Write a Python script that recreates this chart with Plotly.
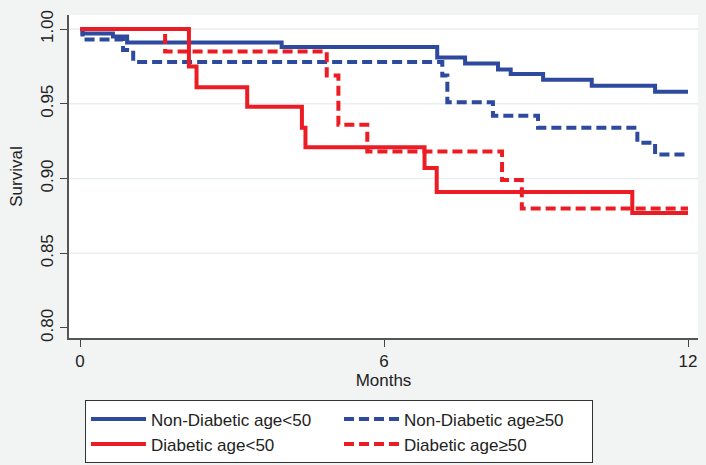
import plotly.graph_objects as go

# ---- data ----
nd_lt50_t = [0, 0.05, 0.65, 0.93, 3.98, 7.05, 7.6, 8.25, 8.5, 9.14, 10.1, 11.35, 12]
nd_lt50_s = [1.0, 0.997, 0.995, 0.991, 0.988, 0.981, 0.977, 0.973, 0.970, 0.966, 0.962, 0.958, 0.958]

nd_ge50_t = [0, 0.05, 0.85, 1.05, 7.15, 7.25, 8.15, 9.04, 11.0, 11.35, 12]
nd_ge50_s = [1.0, 0.993, 0.986, 0.978, 0.969, 0.951, 0.942, 0.934, 0.924, 0.916, 0.916]

d_lt50_t = [0, 2.15, 2.3, 3.3, 4.38, 4.45, 6.8, 7.04, 10.9, 12]
d_lt50_s = [1.0, 0.975, 0.961, 0.948, 0.934, 0.921, 0.907, 0.891, 0.877, 0.877]

d_ge50_t = [0, 1.68, 4.87, 5.1, 5.67, 8.33, 8.72, 12]
d_ge50_s = [1.0, 0.985, 0.969, 0.936, 0.918, 0.899, 0.880, 0.880]

series_names = ["Non-Diabetic age<50", "Non-Diabetic age\u226550",
                "Diabetic age<50", "Diabetic age\u226550"]

x_ticks = [0, 6, 12]
y_ticks = [0.80, 0.85, 0.90, 0.95, 1.00]
y_tick_labels = ["0.80", "0.85", "0.90", "0.95", "1.00"]
y_grid = [0.85, 0.90, 0.95, 1.00]

# ---- styling ----
BLUE = "#2E4A9E"
RED = "#EC1C24"
FONT = "Liberation Sans, Arial, sans-serif"
FS = 17
TXT = "#222222"

fig = go.Figure()
specs = [
    (nd_lt50_t, nd_lt50_s, series_names[0], BLUE, "solid"),
    (nd_ge50_t, nd_ge50_s, series_names[1], BLUE, "10px,5px"),
    (d_lt50_t, d_lt50_s, series_names[2], RED, "solid"),
    (d_ge50_t, d_ge50_s, series_names[3], RED, "10px,5px"),
]
for t, s, name, col, dash in specs:
    fig.add_trace(go.Scatter(
        x=t, y=s, name=name, mode="lines",
        line=dict(color=col, width=4, dash=dash, shape="hv"),
    ))

for gy in y_grid:
    fig.add_shape(type="line", xref="paper", yref="y", x0=0, x1=1, y0=gy, y1=gy,
                  line=dict(color="#E9EEF1", width=1.5), layer="below")

fig.update_layout(
    width=706, height=465,
    margin=dict(l=69, r=8, t=15, b=127, autoexpand=False),
    paper_bgcolor="#F2F4F4",
    plot_bgcolor="#FFFFFF",
    font=dict(family=FONT, size=FS, color=TXT),
    showlegend=True,
    legend=dict(
        orientation="h",
        x=0.0254, xanchor="left",
        y=-0.193, yanchor="top",
        bgcolor="#FFFFFF",
        bordercolor="#333333", borderwidth=1,
        itemwidth=55,
        entrywidth=183,
        font=dict(family=FONT, size=FS, color=TXT),
        tracegroupgap=0,
    ),
    xaxis=dict(
        range=[-0.217, 12.197],
        tickmode="array", tickvals=x_ticks,
        ticks="outside", ticklen=7, tickcolor="#444444",
        showgrid=False, zeroline=False, automargin=False,
        showline=True, linecolor="#555555", linewidth=1.5,
        title=dict(text="Months", standoff=4, font=dict(size=FS)),
        tickfont=dict(size=FS),
    ),
    yaxis=dict(
        range=[0.7933, 1.0094],
        tickmode="array", tickvals=y_ticks, ticktext=y_tick_labels,
        tickangle=-90, automargin=False,
        ticks="outside", ticklen=7, tickcolor="#444444",
        showgrid=False, zeroline=False,
        showline=True, linecolor="#555555", linewidth=1.5,
        title=dict(text="Survival", standoff=12, font=dict(size=FS)),
        tickfont=dict(size=FS),
    ),
)

fig.write_html(
    "out.html",
    config={"displayModeBar": False},
    post_script="document.body.style.margin='0px';document.body.style.overflow='hidden';",
)
